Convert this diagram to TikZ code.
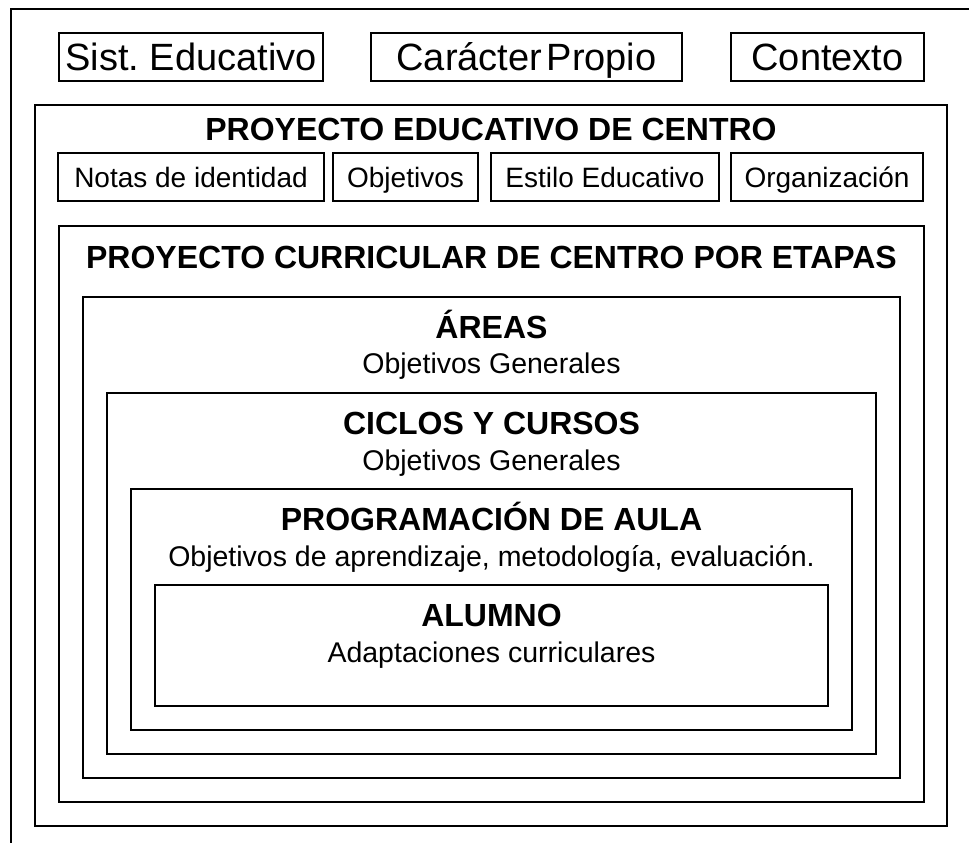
\documentclass[tikz,border=0pt]{standalone}
\usepackage{fontspec}
\setmainfont{Liberation Sans}
\begin{document}
\frenchspacing
\begin{tikzpicture}[x=1pt,y=-1pt,
  line width=2pt,
  frame/.style={draw=black, line width=2pt, rectangle, inner sep=0pt, outer sep=0pt},
  big/.style={font=\fontsize{38}{40}\selectfont, text height=27.2pt, text depth=0pt},
  small/.style={font=\fontsize{28}{30}\selectfont, text height=20pt, text depth=0pt},
  ttl/.style={font=\fontsize{32}{34}\selectfont\bfseries, text height=22.9pt, text depth=0pt},
  sub/.style={font=\fontsize{28.5}{30}\selectfont, text height=20.4pt, text depth=0pt}]
\useasboundingbox (0,0) rectangle (969,843);
% outer frame (open at right and bottom)
\draw (11,843) -- (11,9) -- (969,9);
% top row
\node[frame, big, minimum width=264pt, minimum height=48pt] (sist) at (191,57) {Sist. Educativo};
\node[frame, big, minimum width=311pt, minimum height=48pt] (car) at (526.5,57) {Carácter\hspace{0.12em}Propio};
\node[frame, big, minimum width=193pt, minimum height=48pt] (ctx) at (827.5,57) {Contexto};
% nested boxes
\node[frame, minimum width=912pt, minimum height=721pt] (pec) at (491,465.5) {};
\node[frame, minimum width=865pt, minimum height=576pt] (pcc) at (491.5,514) {};
\node[frame, minimum width=817pt, minimum height=481pt] (areas) at (491.5,537.5) {};
\node[frame, minimum width=769pt, minimum height=361pt] (ciclos) at (491.5,573.5) {};
\node[frame, minimum width=721pt, minimum height=241pt] (prog) at (491.5,609.5) {};
\node[frame, minimum width=673pt, minimum height=121pt] (alum) at (491.5,645.5) {};
% PEC
\node[ttl] (pect) at (491,129) {PROYECTO EDUCATIVO DE CENTRO};
\node[frame, small, minimum width=266pt, minimum height=48pt] (notas) at (191,177) {Notas de identidad};
\node[frame, small, minimum width=145pt, minimum height=48pt] (obj) at (405.5,177) {Objetivos};
\node[frame, small, minimum width=228pt, minimum height=48pt] (est) at (605,177) {Estilo Educativo};
\node[frame, small, minimum width=192pt, minimum height=48pt] (org) at (827,177) {Organización};
% PCC
\node[ttl] (pcct) at (491.5,257) {PROYECTO CURRICULAR DE CENTRO POR ETAPAS};
% Areas
\node[ttl] (areast) at (491.5,327) {ÁREAS};
\node[sub] (areass) at (491.5,363) {Objetivos Generales};
% Ciclos
\node[ttl] (ciclost) at (491.5,423) {CICLOS Y CURSOS};
\node[sub] (cicloss) at (491.5,460) {Objetivos Generales};
% Programacion
\node[ttl] (progt) at (491.5,519) {PROGRAMACIÓN DE AULA};
\node[sub] (progs) at (491.5,556) {Objetivos de aprendizaje, metodología, evaluación.};
% Alumno
\node[ttl] (alumt) at (491.5,615) {ALUMNO};
\node[sub] (alums) at (491.5,652) {Adaptaciones curriculares};
\end{tikzpicture}
\end{document}
